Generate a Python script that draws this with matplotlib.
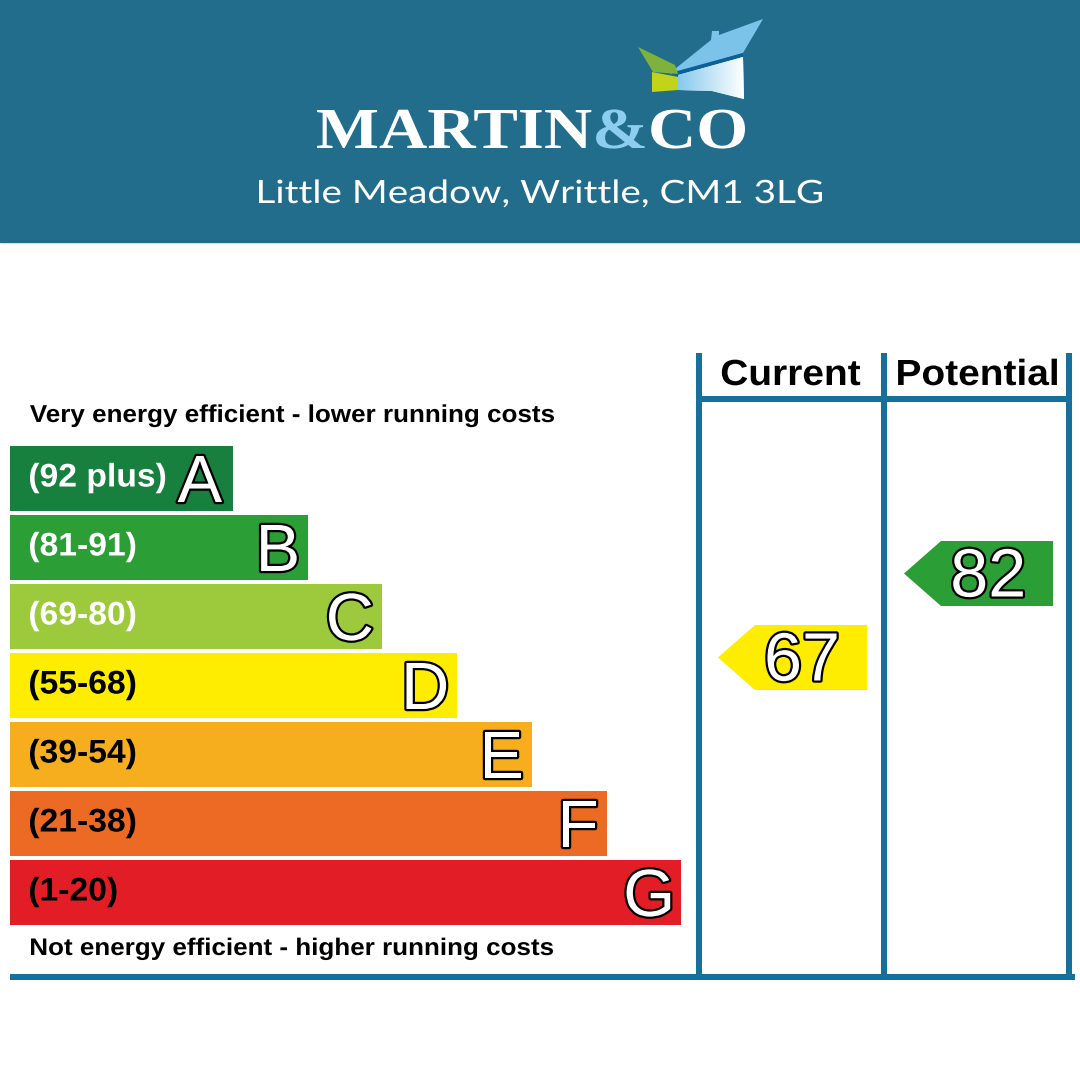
import matplotlib
matplotlib.use("Agg")
import matplotlib.pyplot as plt
from matplotlib.patches import Polygon, PathPatch
from matplotlib.textpath import TextPath
from matplotlib.font_manager import FontProperties
from matplotlib.transforms import Affine2D
from matplotlib.colors import LinearSegmentedColormap
import numpy as np

# EPC data
bands = ["A", "B", "C", "D", "E", "F", "G"]
ranges = ["(92 plus)", "(81-91)", "(69-80)", "(55-68)", "(39-54)", "(21-38)", "(1-20)"]
band_colors = ["#17803f", "#2b9e36", "#9dca3d", "#ffed00", "#f7ae1e", "#ec6a24", "#e31d25"]
range_text_colors = ["white", "white", "white", "black", "black", "black", "black"]
current_score = 67
potential_score = 82
current_color = "#ffed00"
potential_color = "#2b9e36"

title = "Little Meadow, Writtle, CM1 3LG"
header_bg = "#216d8b"
line_blue = "#17709c"

PX = 72 / 100  # pixels -> points at dpi 100

fig = plt.figure(figsize=(10.8, 10.8), dpi=100)
ax = fig.add_axes([0, 0, 1, 1])
ax.set_xlim(0, 1080)
ax.set_ylim(1080, 0)
ax.axis("off")

fp_bold = FontProperties(family="Liberation Sans", weight="bold")
fp_reg = FontProperties(family="Liberation Sans")
fp_logo = FontProperties(family="Liberation Serif", weight="bold")
fp_title = FontProperties(family="Lato")


def path_text(x, base, s, fp, cap, stretch=1.0, width=None, ha="left",
              fc="black", outline=0, z=3):
    # text drawn as a path so it can be stretched to the reference's proportions
    tp = TextPath((0, 0), s, prop=fp, size=1)
    ext = tp.get_extents()
    capref = TextPath((0, 0), "H", prop=fp, size=1).get_extents().height
    sy = cap / capref
    sx = width / ext.width if width else sy * stretch
    if ha == "left":
        x0 = x - ext.x0 * sx
    elif ha == "right":
        x0 = x - ext.x1 * sx
    else:
        x0 = x - (ext.x0 + ext.x1) / 2 * sx
    tr = Affine2D().scale(sx, -sy).translate(x0, base) + ax.transData
    if outline:
        ax.add_patch(PathPatch(tp, transform=tr, facecolor="black", edgecolor="black",
                               lw=outline, joinstyle="round", zorder=z))
    ax.add_patch(PathPatch(tp, transform=tr, facecolor=fc, lw=0, zorder=z + 0.1))


# header band
ax.add_patch(plt.Rectangle((0, 0), 1080, 242, color=header_bg, zorder=0))

# logo text
full = TextPath((0, 0), "MARTIN&CO", prop=fp_logo, size=1).get_extents()
capM = TextPath((0, 0), "M", prop=fp_logo, size=1).get_extents()
sx = (745 - 317) / full.width
sy = (148 - 110) / capM.height
x_start = 317 - full.x0 * sx
off_amp = (TextPath((0, 0), "MARTIN&", prop=fp_logo, size=1).get_extents().x1
           - TextPath((0, 0), "&", prop=fp_logo, size=1).get_extents().x1)
off_co = full.x1 - TextPath((0, 0), "CO", prop=fp_logo, size=1).get_extents().x1
for s, off, col in [("MARTIN", 0, "white"), ("&", off_amp, "#8dcdf0"), ("CO", off_co, "white")]:
    tp = TextPath((0, 0), s, prop=fp_logo, size=1)
    tr = Affine2D().scale(sx, -sy).translate(x_start + off * sx, 148) + ax.transData
    ax.add_patch(PathPatch(tp, transform=tr, color=col, lw=0, zorder=3))

# house icon
roof = [(670, 73), (711, 40), (712, 31), (719, 31), (719, 35), (763, 19), (743, 53), (671, 74)]
stripe = [(670, 73), (743, 53), (743, 58), (678, 76)]
wall = [(678, 75), (743, 57), (744, 99), (712, 91), (678, 90)]
wing = [(638, 47), (675, 65), (678, 74), (653, 72)]
block = [(652, 72), (678, 77), (678, 90), (652, 92)]
ax.add_patch(Polygon(roof, closed=True, color="#7cc3ea", lw=0, zorder=3))
ax.add_patch(Polygon(stripe, closed=True, color="#0d5f95", lw=0, zorder=3))
wall_patch = Polygon(wall, closed=True, color="#bfe3f6", lw=0, zorder=3)
ax.add_patch(wall_patch)
grad = np.linspace(0, 1, 100).reshape(1, -1)
im = ax.imshow(grad, extent=(678, 744, 100, 57), aspect="auto", zorder=4,
               cmap=LinearSegmentedColormap.from_list("w", ["#86c9ee", "#ffffff"]))
im.set_clip_path(wall_patch)
ax.add_patch(Polygon(wing, closed=True, color="#7fb23a", lw=0, zorder=3))
ax.add_patch(Polygon(block, closed=True, color="#c3d318", lw=0, zorder=3))
ax.set_xlim(0, 1080)
ax.set_ylim(1080, 0)

path_text(259, 203, title, fp_title, 23, width=563, fc="white")

# bars
bar_left = 10
bar_h = 65
y0, pitch = 478.5, 69
w0, wstep = 223, 74.7
ys = [y0 + pitch * i for i in range(len(bands))]
widths = [w0 + wstep * i for i in range(len(bands))]
ax.barh(ys, widths, left=bar_left, height=bar_h, color=band_colors, zorder=2)

for y, w, b, r, tc in zip(ys, widths, bands, ranges, range_text_colors):
    path_text(30, y + 8, r, fp_bold, 22.5, stretch=1.03, fc=tc)
    path_text(bar_left + w - 11, y + 23.5, b, fp_reg, 46, ha="right",
              fc="white", outline=3.2)

path_text(30, 422, "Very energy efficient - lower running costs", fp_bold, 16.8, width=524)
path_text(31, 955, "Not energy efficient - higher running costs", fp_bold, 16.5, width=522)

# columns
lw = 6 * PX
for x in (699, 884, 1069):
    ax.plot([x, x], [353, 977], color=line_blue, lw=lw, solid_capstyle="butt", zorder=2)
ax.plot([699, 1069], [399, 399], color=line_blue, lw=lw, zorder=2)
ax.plot([10, 1075], [977, 977], color=line_blue, lw=lw, solid_capstyle="butt", zorder=2)
path_text(791, 385, "Current", fp_bold, 25, stretch=1.07, ha="center")
path_text(977.5, 385, "Potential", fp_bold, 25, stretch=1.07, ha="center")


def score_y(score):
    return 657.5 - 5.6 * (score - 67)


def arrow(score, tip_x, right_x, color):
    yc = score_y(score)
    h = 65
    body_x = tip_x + 37
    pts = [(tip_x, yc), (body_x, yc - h / 2), (right_x, yc - h / 2),
           (right_x, yc + h / 2), (body_x, yc + h / 2)]
    ax.add_patch(Polygon(pts, closed=True, color=color, lw=0, zorder=2))
    path_text((body_x + right_x) / 2 - 9, yc + 23, str(score), fp_reg, 47,
              ha="center", fc="white", outline=3.2)


arrow(current_score, 718, 867, current_color)
arrow(potential_score, 904, 1053, potential_color)

fig.savefig("out.png", dpi=100, facecolor="white")
